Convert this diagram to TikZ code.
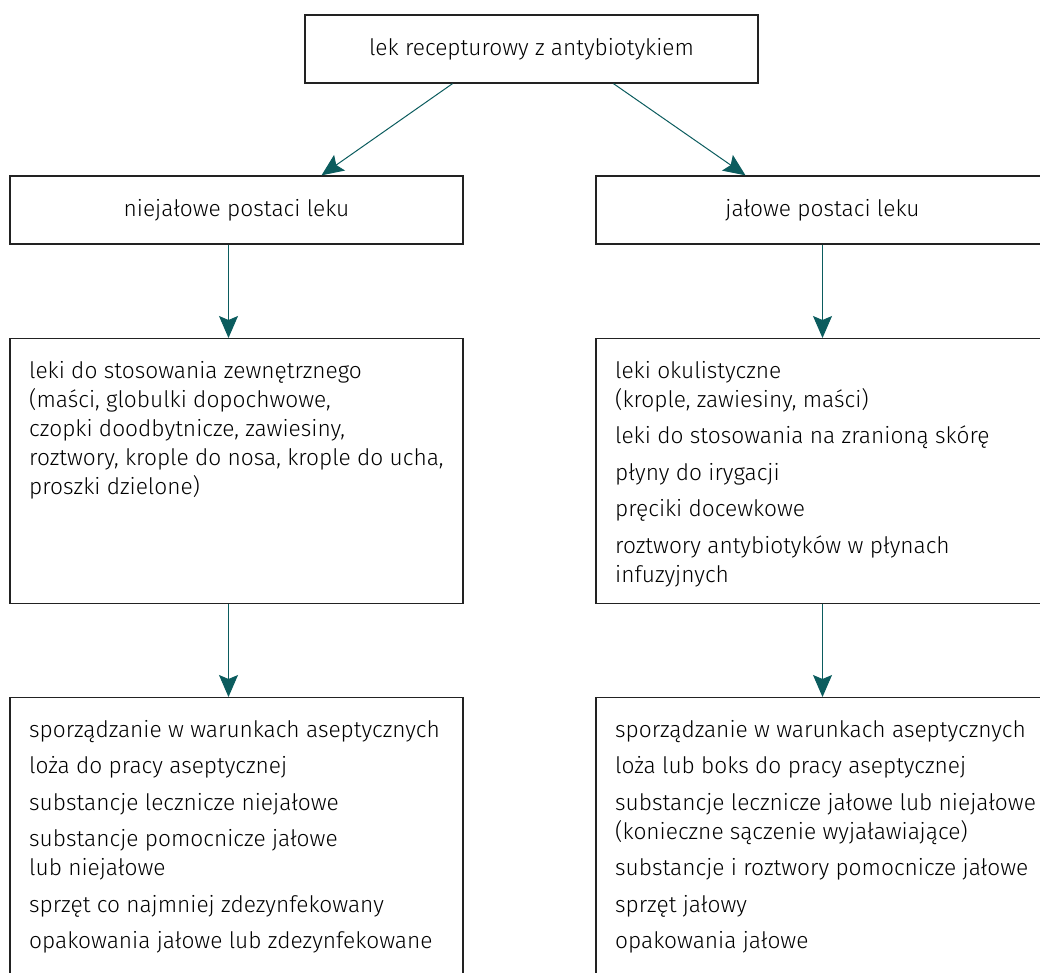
\documentclass[tikz,border=0pt]{standalone}
\usepackage{fontspec}
\setmainfont{Fira Sans Light}
\usetikzlibrary{arrows.meta}
\definecolor{arrowteal}{HTML}{0B5C5E}
\definecolor{framegray}{HTML}{222222}

\begin{document}
\begin{tikzpicture}[x=1pt, y=-1pt,
    box/.style={draw=framegray, line width=1.3pt, minimum width=453pt, inner sep=0pt},
    txt/.style={anchor=north west, inner sep=0pt, align=left,
      font=\fontsize{22.7}{29}\selectfont},
    label/.style={font=\fontsize{22.7}{29}\selectfont},
    arr/.style={draw=arrowteal, line width=1pt,
      -{Stealth[length=22pt, width=19pt, inset=4pt, fill=arrowteal]}}]
  \useasboundingbox (0,0) rectangle (1040,972);
  \clip (0,0) rectangle (1040,972);

  \def\gap{7.5pt}

  % Boxes
  \node[box, minimum height=68pt, label] (lek) at (531.5, 49) {lek recepturowy z antybiotykiem};
  \node[box, minimum height=68pt, label] (niejalowe) at (236.5, 210) {niejałowe postaci leku};
  \node[box, minimum height=68pt, label] (jalowe) at (822.5, 210) {jałowe postaci leku};

  \node[box, minimum height=265pt, anchor=north] (zewn) at (236.5, 338) {};
  \node[box, minimum height=265pt, anchor=north] (jpost) at (822.5, 338) {};

  \node[box, minimum height=300pt, anchor=north] (aseptl) at (236.5, 697) {};
  \node[box, minimum height=300pt, anchor=north] (aseptp) at (822.5, 697) {};

  % Texts
  \node[txt] (zewntxt) at (29, 361) {leki do stosowania zewnętrznego\\
    (maści, globulki dopochwowe,\\
    czopki doodbytnicze, zawiesiny,\\
    roztwory, krople do nosa, krople do ucha,\\
    proszki dzielone)};

  \node[txt] (jposttxt) at (615, 361) {leki okulistyczne\\
    (krople, zawiesiny, maści)\\[\gap]
    leki do stosowania na zranioną skórę\\[\gap]
    płyny do irygacji\\[\gap]
    pręciki docewkowe\\[\gap]
    roztwory antybiotyków w płynach\\
    infuzyjnych};

  \node[txt] (aseptltxt) at (29, 720) {sporządzanie w warunkach aseptycznych\\[\gap]
    loża do pracy aseptycznej\\[\gap]
    substancje lecznicze niejałowe\\[\gap]
    substancje pomocnicze jałowe\\
    lub niejałowe\\[\gap]
    sprzęt co najmniej zdezynfekowany\\[\gap]
    opakowania jałowe lub zdezynfekowane};

  \node[txt] (aseptptxt) at (615, 720) {sporządzanie w warunkach aseptycznych\\[\gap]
    loża lub boks do pracy aseptycznej\\[\gap]
    substancje lecznicze jałowe lub niejałowe\\
    (konieczne sączenie wyjaławiające)\\[\gap]
    substancje i roztwory pomocnicze jałowe\\[\gap]
    sprzęt jałowy\\[\gap]
    opakowania jałowe};

  % Arrows
  \draw[arr] ([xshift=-79pt]lek.south) -- ([xshift=85pt]niejalowe.north);
  \draw[arr] ([xshift=82pt]lek.south) -- ([xshift=-77pt]jalowe.north);
  \draw[arr] ([xshift=-8pt]niejalowe.south) -- ([xshift=-8pt]zewn.north);
  \draw[arr] (jalowe.south) -- (jpost.north);
  \draw[arr] ([xshift=-8pt]zewn.south) -- ([xshift=-8pt]aseptl.north);
  \draw[arr] (jpost.south) -- (aseptp.north);
\end{tikzpicture}
\end{document}
